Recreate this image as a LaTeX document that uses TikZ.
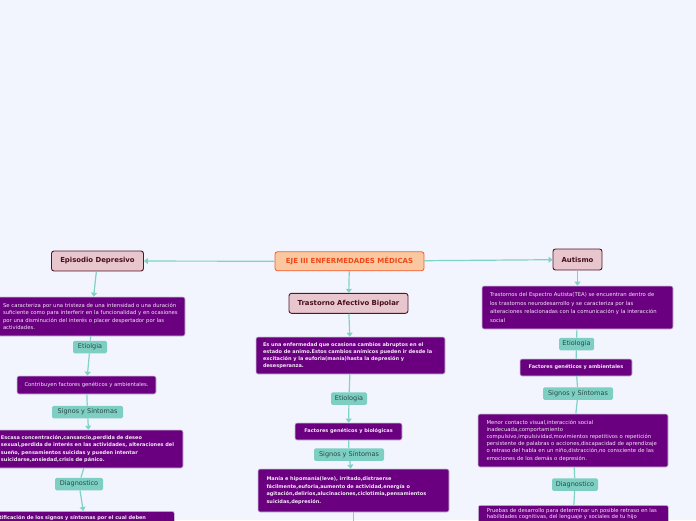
\documentclass[tikz,border=0pt]{standalone}
\usepackage{fontspec}
\setmainfont{DejaVu Sans}
\usetikzlibrary{arrows.meta}

\definecolor{bgcol}{RGB}{243,245,254}
\definecolor{purp}{RGB}{106,0,128}
\definecolor{cardtext}{RGB}{244,232,246}
\definecolor{cardedge}{RGB}{200,198,212}
\definecolor{tagfill}{RGB}{126,207,195}
\definecolor{tagtext}{RGB}{40,72,68}
\definecolor{linkcol}{RGB}{126,210,198}
\definecolor{topicfill}{RGB}{232,198,205}
\definecolor{topicedge}{RGB}{84,22,40}
\definecolor{topictext}{RGB}{70,14,30}
\definecolor{mainfill}{RGB}{250,200,160}
\definecolor{mainedge}{RGB}{242,92,48}
\definecolor{maintext}{RGB}{240,72,24}

\tikzset{
  topic/.style={draw=topicedge, fill=topicfill, line width=0.9pt, rounded corners=2.5pt,
    text=topictext, font=\fontsize{6.9}{8}\selectfont\bfseries, inner sep=0pt},
  card/.style={draw=cardedge, fill=purp, line width=0.6pt, rounded corners=2pt,
    text=cardtext, align=left, inner ysep=0pt, font=\fontsize{5.3}{7.2}\selectfont},
  cardb/.style={card, font=\fontsize{5}{7.2}\selectfont\bfseries},
  tag/.style={fill=tagfill, rounded corners=1.5pt, text=tagtext,
    font=\fontsize{6.5}{7}\selectfont, inner sep=0pt, minimum height=12.5pt},
  link/.style={draw=linkcol, line width=1.2pt},
  arr/.style={link, -{Triangle[width=6pt,length=4pt]}}
}

\begin{document}
\begin{tikzpicture}[x=1pt,y=-1pt]
    \useasboundingbox (0,0) rectangle (696,520);
    \clip (0,0) rectangle (696,520);
    \fill[bgcol] (0,0) rectangle (696,520);

    % Central topic and main branches
    \node[draw=mainedge, fill=mainfill, line width=0.8pt, rounded corners=2.5pt, text=maintext,
          font=\fontsize{7}{8}\selectfont\bfseries, minimum width=149pt, minimum height=19pt,
          inner sep=0pt] (eje) at (349.5,261.3) {EJE III ENFERMEDADES MÉDICAS};
    \node[topic, minimum width=92pt, minimum height=20pt] (dep) at (97.5,261) {Episodio Depresivo};
    \node[topic, minimum width=119pt, minimum height=20pt] (bip) at (348.5,303.3) {Trastorno Afectivo Bipolar};
    \node[topic, minimum width=49pt, minimum height=21pt] (aut) at (577.5,259.5) {Autismo};

    % Episodio Depresivo
    \node[card, text width=177pt, inner xsep=5pt, minimum height=39pt] (depdef) at (91.5,316.5)
      {Se caracteriza por una tristeza de una intensidad o una duración\\
       suficiente como para interferir en la funcionalidad y en ocasiones\\
       por una disminución del interés o placer despertador por las\\
       actividades.};
    \node[tag, minimum width=34pt] (depetio) at (90,347) {Etiolgia};
    \node[card, align=center, minimum width=139pt, minimum height=18pt] (depcausa) at (86.5,385)
      {Contribuyen factores genéticos y ambientales.};
    \node[tag, minimum width=71pt] (depsig) at (87.5,412) {Signos y Síntomas};
    \node[cardb, text width=177pt, inner xsep=5pt, minimum height=38pt] (depsint) at (89.5,449)
      {Escasa concentración,cansancio,perdida de deseo\\
       sexual,perdida de interés en las actividades, alteraciones del\\
       sueño, pensamientos suicidas y pueden intentar\\
       suicidarse,ansiedad,crisis de pánico.};
    \node[tag, minimum width=48pt] (depdiag) at (79,484) {Diagnostico};
    \node[cardb, anchor=north west, text width=170pt, inner xsep=5pt, inner ysep=4pt] (depid) at (-6,511)
      {tificación de los signos y síntomas por el cual deben};

    % Trastorno Afectivo Bipolar
    \node[cardb, text width=175pt, inner xsep=7pt, minimum height=37pt] (bipdef) at (350.5,355.5)
      {Es una enfermedad que ocasiona cambios abruptos en el\\
       estado de animo.Estos cambios anímicos pueden ir desde la\\
       excitación y la euforia(manía)hasta la depresión y\\
       desesperanza.};
    \node[tag, minimum width=36pt] (bipetio) at (349,398.5) {Etiologia};
    \node[cardb, align=center, minimum width=107pt, minimum height=17pt] (bipcausa) at (348.5,431.5)
      {Factores genéticos y biológicas};
    \node[tag, minimum width=70pt] (bipsig) at (349,454.5) {Signos y Síntomas};
    \node[cardb, text width=174pt, inner xsep=8.5pt, minimum height=43pt, font=\fontsize{5}{7.7}\selectfont\bfseries]
      (bipsint) at (353.5,490.5)
      {Manía e hipomanía(leve), irritado,distraerse\\
       fácilmente,euforia,aumento de actividad,energía o\\
       agitación,delirios,alucinaciones,ciclotimia,pensamientos\\
       suicidas,depresión.};
    \coordinate (bipnext) at (353.5,530);

    % Autismo
    \node[card, text width=175pt, inner xsep=8pt, minimum height=43pt, font=\fontsize{5.3}{8.4}\selectfont]
      (autdef) at (577.5,307.5)
      {Trastornos del Espectro Autista(TEA) se encuentran dentro de\\
       los trastornos neurodesarrollo y se caracteriza por las\\
       alteraciones relacionadas con la comunicación y la interacción\\
       social};
    \node[tag, minimum width=35pt] (autetio) at (576.5,344) {Etiologia};
    \node[cardb, align=center, minimum width=112pt, minimum height=17pt] (autcausa) at (576,367.5)
      {Factores genéticos y ambientales};
    \node[tag, minimum width=70pt] (autsig) at (578,393.5) {Signos y Síntomas};
    \node[card, text width=173pt, inner xsep=8.5pt, minimum height=53pt] (autsint) at (573,440.5)
      {Menor contacto visual,interacción social\\
       inadecuada,comportamiento\\
       compulsivo,impulsividad,movimientos repetitivos o repetición\\
       persistente de palabras o acciones,discapacidad de aprendizaje\\
       o retraso del habla en un niño,distracción,no consciente de las\\
       emociones de los demás o depresión.};
    \node[tag, minimum width=46pt] (autdiag) at (575,484.5) {Diagnostico};
    \node[card, anchor=north west, text width=173pt, inner xsep=8.5pt, inner ysep=3pt,
          font=\fontsize{5.3}{6.6}\selectfont] (autprueba) at (478,505)
      {Pruebas de desarrollo para determinar un posible retraso en las\\
       habilidades cognitivas, del lenguaje y sociales de tu hijo};

    % Connectors
    \foreach \a/\b in {eje/dep, eje/bip, eje/aut,
            dep/depdef, depetio/depcausa, depsig/depsint, depdiag/depid,
            bip/bipdef, bipetio/bipcausa, bipsig/bipsint,
            aut/autdef} {
        \draw[arr] (\a) -- (\b);
    }
    \foreach \a/\b in {depdef/depetio, depcausa/depsig, depsint/depdiag,
            bipdef/bipetio, bipcausa/bipsig, bipsint/bipnext,
            autdef/autetio, autetio/autcausa, autcausa/autsig,
            autsig/autsint, autsint/autdiag, autdiag/autprueba} {
        \draw[link] (\a) -- (\b);
    }
\end{tikzpicture}
\end{document}
